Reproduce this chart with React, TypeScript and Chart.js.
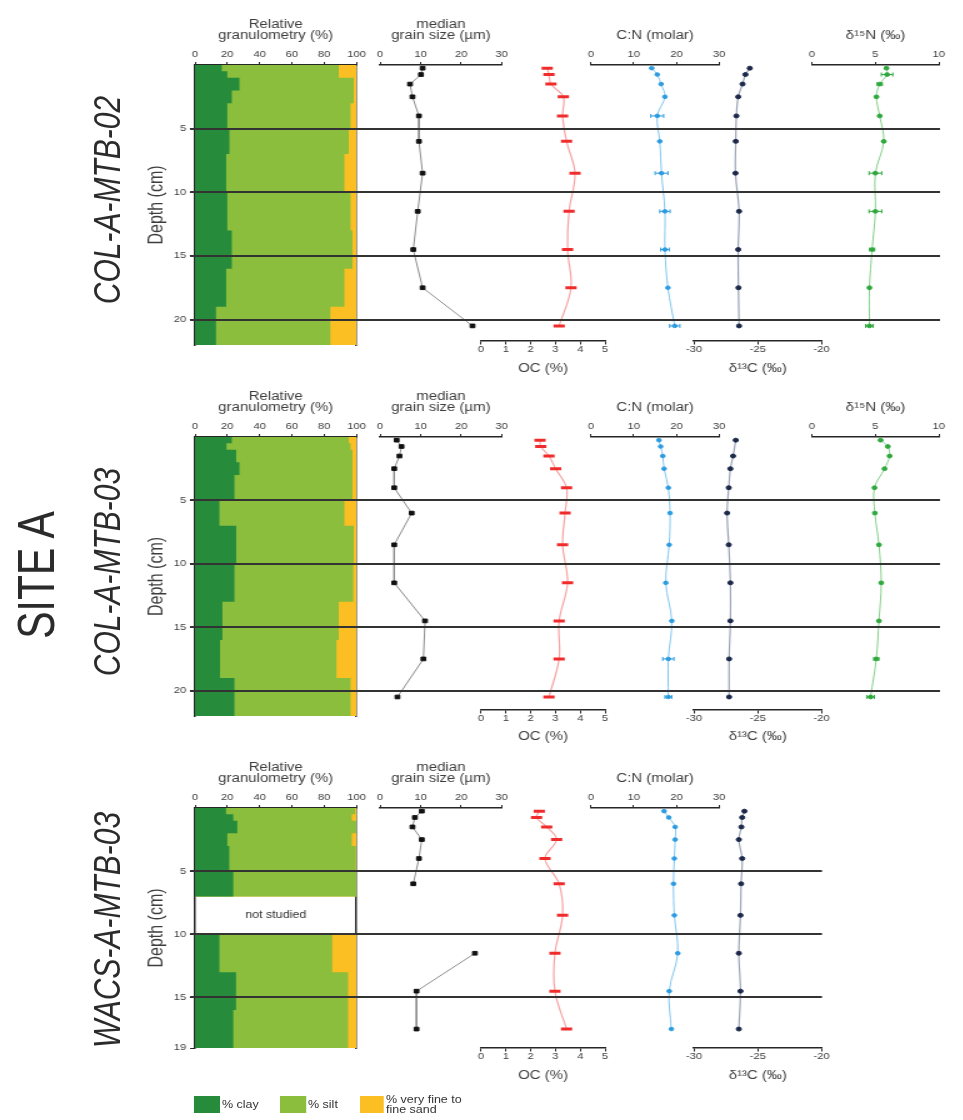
import React, { useEffect, useRef } from 'react';
import { Chart, registerables } from 'chart.js';

Chart.register(...registerables);

/* ====================== DATA ====================== */

const DEPTH_TICKS_COL = [5, 10, 15, 20];
const DEPTH_TICKS_WACS = [5, 10, 15, 19];

// ---- COL-A-MTB-02 ----
const EDGES_02 = [0, 0.5, 1, 2, 3, 5, 7, 10, 13, 16, 19, 22];
const CLAY_02 = [16.6, 20, 27.5, 22.8, 20, 21.3, 19.3, 20, 22.8, 19.3, 13];
const SILT_02 = [72.4, 69, 70.8, 75.5, 76.3, 73.9, 73.2, 76.3, 74.7, 73.2, 70.8];
const SAND_02 = [11, 11, 1.7, 1.7, 3.7, 4.8, 7.5, 3.7, 2.5, 7.5, 16.2];
const DEPTH_02 = [0.25, 0.75, 1.5, 2.5, 4, 6, 8.5, 11.5, 14.5, 17.5, 20.5];
const GS_02 = [10.5, 10.1, 7.4, 8.0, 9.6, 9.6, 10.5, 9.3, 8.2, 10.5, 22.8];
const OC_02 = [2.67, 2.74, 2.82, 3.32, 3.29, 3.45, 3.79, 3.55, 3.49, 3.63, 3.15];
const CN_02 = [14.2, 15.5, 16.4, 17.3, 15.5, 16.1, 16.5, 17.3, 17.3, 18.0, 19.6];
const CN_ERR_02 = [0, 0, 0, 0, 1.5, 0, 1.5, 1.2, 1.0, 0, 1.2];
const D13C_02 = [-25.63, -25.97, -26.2, -26.54, -26.68, -26.73, -26.75, -26.47, -26.54, -26.52, -26.47];
const D15N_02 = [5.87, 5.92, 5.34, 5.08, 5.34, 5.66, 5.0, 5.0, 4.74, 4.53, 4.53];
const D15N_ERR_02 = [0, 0.45, 0.2, 0, 0, 0, 0.5, 0.5, 0.2, 0, 0.3];

// ---- COL-A-MTB-03 ----
const EDGES_03 = [0, 0.5, 1, 2, 3, 5, 7, 10, 13, 16, 19, 22];
const CLAY_03 = [22.8, 19.5, 25.5, 27.5, 24.4, 15.1, 25.5, 24.4, 17, 15.5, 24.4];
const SILT_03 = [72.4, 76.8, 72, 70, 73.1, 77.4, 72.8, 73.6, 72, 72.1, 71.9];
const SAND_03 = [4.8, 3.7, 2.5, 2.5, 2.5, 7.5, 1.7, 2, 11, 12.4, 3.7];
const DEPTH_03 = [0.25, 0.75, 1.5, 2.5, 4, 6, 8.5, 11.5, 14.5, 17.5, 20.5];
const GS_03 = [4.1, 5.3, 4.8, 3.5, 3.5, 7.8, 3.5, 3.5, 11.1, 10.7, 4.3];
const OC_03 = [2.38, 2.41, 2.74, 3.01, 3.45, 3.39, 3.29, 3.49, 3.15, 3.15, 2.74];
const CN_03 = [15.9, 16.3, 16.8, 17.1, 18.1, 18.5, 18.3, 17.5, 18.9, 18.1, 18.1];
const CN_ERR_03 = [0, 0, 0, 0, 0, 0, 0, 0, 0, 1.3, 0.8];
const D13C_03 = [-26.73, null, -26.94, -27.15, -27.28, -27.41, -27.28, -27.15, -27.15, -27.25, -27.25];
const D15N_03 = [5.41, 5.98, 6.12, 5.72, 4.93, 4.96, 5.28, 5.46, 5.28, 5.07, 4.62];
const D15N_ERR_03 = [0, 0, 0, 0, 0, 0, 0, 0, 0, 0.2, 0.3];

// ---- WACS-A-MTB-03 ----
const EDGES_W = [0, 0.5, 1, 2, 3, 5, 7, 10, 13, 16, 19];
const CLAY_W = [19.2, 23.7, 26.2, 20, 21.2, 23.7, null, 15.1, 25.4, 23.7];
const SILT_W = [80, 73.4, 73.8, 77.1, 78.4, 76.3, null, 69.9, 69.4, 71.1];
const SAND_W = [0.8, 2.9, 0, 2.9, 0.4, 0, null, 15, 5.2, 5.2];
const DEPTH_W = [0.25, 0.75, 1.5, 2.5, 4, 6, 8.5, 11.5, 14.5, 17.5];
const GS_W = [10.3, 8.6, 8.0, 10.3, 9.6, 8.2, null, 23.4, 9.0, 9.0];
const OC_W = [2.35, 2.24, 2.65, 3.05, 2.58, 3.15, 3.29, 2.98, 2.98, 3.45];
const CN_W = [17.1, 18.2, 19.7, 19.7, 19.5, 19.3, 19.5, 20.3, 18.3, 18.8];
const D13C_W = [-26.05, -26.23, -26.29, -26.49, -26.23, -26.31, -26.36, -26.49, -26.36, -26.49];

/* ====================== STYLE / LAYOUT ====================== */

const K = 1.25; // the figure is horizontally stretched
const X = (px: number) => px / K;
const FONT = '"Liberation Sans", Arial, Helvetica, sans-serif';
const TXT = '#3d3d3d';
const AXIS_C = '#262626';
const CLAY_C = '#268c3c';
const SILT_C = '#8abe3c';
const SAND_C = '#fbbe23';
const TOP_H = 46;
const LEFT_W = 40;
const BOTTOM_H = 33;
const M = { l: 60, r: 40, t: 60, b: 50 };

const COL_GRAN = [195, 356.5];
const COL_GS = [380, 501.7];
const COL_OC = [481, 605];
const COL_CN = [591, 719.2];
const COL_D13C = [694, 821.7];
const COL_D15N = [812, 938.8];

const ST_GS = { line: '#8c8c8c', lw: 1, tension: 0, shape: 'rect', r: 2.6, bw: 1, pt: '#111111', spanGaps: false };
const ST_OC = { line: '#f6a3a3', lw: 1.2, tension: 0.35, shape: 'line', r: 4.5, bw: 3, pt: '#ef2b2b', spanGaps: true };
const ST_CN = { line: '#82c6ef', lw: 1, tension: 0.35, shape: 'circle', r: 1.8, bw: 1, pt: '#2c9be0', spanGaps: true };
const ST_D13C = { line: '#9ba3b6', lw: 1.2, tension: 0.35, shape: 'circle', r: 2, bw: 1, pt: '#1c2849', spanGaps: true };
const ST_D15N = { line: '#84d08a', lw: 1, tension: 0.35, shape: 'circle', r: 1.9, bw: 1, pt: '#2fa83e', spanGaps: true };

const PANELS: any[] = [
  {
    id: 'p1', core: 'COL-A-MTB-02', top: 65, bottom: 345, depthMax: 22, depthTicks: DEPTH_TICKS_COL,
    bottomAxisDepth: 21.7, lineRight: 940, labelY: 200,
    edges: EDGES_02, clay: CLAY_02, silt: SILT_02, sand: SAND_02,
    depths: DEPTH_02, gs: GS_02, oc: OC_02, cn: CN_02, cnErr: CN_ERR_02, d13c: D13C_02, d15n: D15N_02, d15nErr: D15N_ERR_02,
  },
  {
    id: 'p2', core: 'COL-A-MTB-03', top: 437, bottom: 716, depthMax: 22, depthTicks: DEPTH_TICKS_COL,
    bottomAxisDepth: 21.5, lineRight: 940, labelY: 572,
    edges: EDGES_03, clay: CLAY_03, silt: SILT_03, sand: SAND_03,
    depths: DEPTH_03, gs: GS_03, oc: OC_03, cn: CN_03, cnErr: CN_ERR_03, d13c: D13C_03, d15n: D15N_03, d15nErr: D15N_ERR_03,
  },
  {
    id: 'p3', core: 'WACS-A-MTB-03', top: 808, bottom: 1048, depthMax: 19, depthTicks: DEPTH_TICKS_WACS,
    bottomAxisDepth: 19, lineRight: 822, labelY: 930, gapText: 'not studied',
    edges: EDGES_W, clay: CLAY_W, silt: SILT_W, sand: SAND_W,
    depths: DEPTH_W, gs: GS_W, oc: OC_W, cn: CN_W, cnErr: null, d13c: D13C_W, d15n: null, d15nErr: null,
  },
];

/* ====================== PLUGINS ====================== */

const errorBarPlugin = {
  id: 'errorBars',
  afterDatasetsDraw(chart: any) {
    const ctx = chart.ctx;
    const xs = chart.scales.x;
    chart.data.datasets.forEach((ds: any, i: number) => {
      if (!ds.errors) return;
      const meta = chart.getDatasetMeta(i);
      ctx.save();
      ctx.strokeStyle = ds.pointBorderColor;
      ctx.lineWidth = 1;
      meta.data.forEach((pt: any, j: number) => {
        const e = ds.errors[j];
        const v = ds.data[j].x;
        if (!e || v == null) return;
        const x1 = xs.getPixelForValue(v - e);
        const x2 = xs.getPixelForValue(v + e);
        const y = pt.y;
        ctx.beginPath();
        ctx.moveTo(x1, y); ctx.lineTo(x2, y);
        ctx.moveTo(x1, y - 2); ctx.lineTo(x1, y + 2);
        ctx.moveTo(x2, y - 2); ctx.lineTo(x2, y + 2);
        ctx.stroke();
      });
      ctx.restore();
    });
  },
};

const gapLabelPlugin = {
  id: 'gapLabel',
  afterDatasetsDraw(chart: any, _args: any, opts: any) {
    if (!opts || !opts.text) return;
    const { ctx, scales } = chart;
    ctx.save();
    ctx.font = `10px ${FONT}`;
    ctx.fillStyle = '#333333';
    ctx.textAlign = 'center';
    ctx.textBaseline = 'middle';
    ctx.fillText(opts.text, scales.x.getPixelForValue(opts.x), scales.y.getPixelForValue(opts.depth));
    ctx.restore();
  },
};

/* ====================== BUILDERS ====================== */

function stepPolygons(edges: number[], left: (number | null)[], right: (number | null)[]) {
  const polys: any[] = [];
  let i = 0;
  while (i < right.length) {
    if (right[i] == null) { i++; continue; }
    let j = i;
    while (j < right.length && right[j] != null) j++;
    const pts: any[] = [];
    for (let k = i; k < j; k++) {
      pts.push({ x: right[k], y: edges[k] });
      pts.push({ x: right[k], y: edges[k + 1] });
    }
    for (let k = j - 1; k >= i; k--) {
      pts.push({ x: left[k], y: edges[k + 1] });
      pts.push({ x: left[k], y: edges[k] });
    }
    polys.push(pts);
    i = j;
  }
  return polys;
}

function baseOptions(padding: any) {
  return {
    responsive: false,
    animation: false,
    indexAxis: 'y',
    events: [],
    layout: { padding },
  };
}

const noPlugins = { legend: { display: false }, tooltip: { enabled: false } };

function tickFont() { return { size: 9, family: FONT }; }
function titleFont() { return { size: 12, family: FONT, lineHeight: 0.92 }; }

function topAxis(min: number, max: number, step: number, title: string[]) {
  return {
    type: 'linear', position: 'top', min, max,
    ticks: { stepSize: step, autoSkip: false, maxRotation: 0, minRotation: 0, padding: 2, color: TXT, font: tickFont() },
    grid: { display: true, drawOnChartArea: false, drawTicks: true, tickLength: 3, color: AXIS_C, lineWidth: 1 },
    border: { display: true, color: AXIS_C, width: 1.5 },
    title: { display: true, text: title, color: TXT, font: titleFont(), padding: { top: title.length === 1 ? 11 : 0, bottom: 0 } },
    afterFit: (s: any) => { s.height = TOP_H; },
  };
}

function bottomAxis(min: number, max: number, step: number, title: string, depth: number) {
  return {
    type: 'linear', position: { y: depth }, min, max,
    ticks: { stepSize: step, autoSkip: false, maxRotation: 0, minRotation: 0, padding: 0, color: TXT, font: tickFont() },
    grid: { display: true, drawOnChartArea: false, drawTicks: true, tickLength: 3, color: AXIS_C, lineWidth: 1 },
    border: { display: true, color: AXIS_C, width: 1.5 },
    title: { display: true, text: title, color: TXT, font: titleFont(), padding: { top: 0, bottom: 0 } },
    afterFit: (s: any) => { s.height = BOTTOM_H; },
  };
}

function depthScale(p: any) {
  return { type: 'linear', min: 0, max: p.depthMax, reverse: true, display: false };
}

function series(depths: number[], values: (number | null)[], st: any, errors?: number[] | null) {
  return {
    data: depths.map((d, i) => ({ x: values[i], y: d })),
    errors: errors || undefined,
    borderColor: st.line,
    borderWidth: st.lw,
    tension: st.tension,
    pointStyle: st.shape,
    pointRadius: st.r,
    pointBorderWidth: st.bw,
    pointBackgroundColor: st.pt,
    pointBorderColor: st.pt,
    fill: false,
    spanGaps: st.spanGaps,
    clip: 10,
  };
}

function granSpec(p: any) {
  const zeros = p.clay.map((c: any) => (c == null ? null : 0));
  const cumSilt = p.clay.map((c: any, i: number) => (c == null ? null : c + p.silt[i]));
  const cumSand = p.clay.map((c: any, i: number) => (c == null ? null : c + p.silt[i] + p.sand[i]));
  const layers: [any[], string][] = [[p.clay, CLAY_C], [cumSilt, SILT_C], [cumSand, SAND_C]];
  const datasets: any[] = [];
  layers.forEach(([right, color]) => {
    stepPolygons(p.edges, zeros, right).forEach((poly) => {
      datasets.push({
        data: poly, yAxisID: 'y', xAxisID: 'x', fill: 'shape', backgroundColor: color,
        borderWidth: 0, pointRadius: 0, tension: 0, spanGaps: true,
      });
    });
  });
  let gap: any = {};
  const gi = p.clay.findIndex((c: any) => c == null);
  if (gi >= 0 && p.gapText) gap = { text: p.gapText, x: 50, depth: (p.edges[gi] + p.edges[gi + 1]) / 2 };
  const ticks = p.depthTicks;
  return {
    key: p.id + 'gran',
    area: { l: COL_GRAN[0], r: COL_GRAN[1], t: p.top, b: p.bottom },
    sizes: { top: TOP_H, left: LEFT_W },
    config: (padding: any) => ({
      type: 'line',
      data: { datasets },
      options: {
        ...baseOptions(padding),
        plugins: { ...noPlugins, gapLabel: gap },
        scales: {
          x: topAxis(0, 100, 20, ['Relative', 'granulometry (%)']),
          y: {
            type: 'linear', position: 'left', min: 0, max: p.depthMax, reverse: true,
            afterBuildTicks: (s: any) => { s.ticks = ticks.map((v: number) => ({ value: v })); },
            ticks: { autoSkip: false, padding: 3, color: TXT, font: tickFont() },
            grid: { display: true, drawOnChartArea: false, drawTicks: true, tickLength: 4, color: AXIS_C, lineWidth: 1 },
            border: { display: true, color: AXIS_C, width: 1.5 },
            title: { display: true, text: 'Depth (cm)', color: TXT, font: { size: 16, family: FONT }, padding: 0 },
            afterFit: (s: any) => { s.width = LEFT_W; },
          },
          yR: {
            type: 'linear', position: 'right', min: 0, max: p.depthMax, reverse: true,
            ticks: { display: false },
            grid: { display: false, drawTicks: false },
            border: { display: true, color: AXIS_C, width: 1.5 },
            afterFit: (s: any) => { s.width = 0; },
          },
        },
      },
      plugins: [gapLabelPlugin],
    }),
  };
}

function profileSpec(p: any, name: string, col: number[], xAxis: any, datasets: any[], side: string) {
  return {
    key: p.id + name,
    area: { l: col[0], r: col[1], t: p.top, b: p.bottom },
    sizes: side === 'top' ? { top: TOP_H } : {},
    config: (padding: any) => ({
      type: 'line',
      data: { datasets },
      options: {
        ...baseOptions(padding),
        plugins: noPlugins,
        scales: { x: xAxis, y: depthScale(p) },
      },
      plugins: [errorBarPlugin],
    }),
  };
}

function linesSpec(p: any) {
  const ticks = p.depthTicks.filter((v: number) => v < p.depthMax);
  return {
    key: p.id + 'lines',
    area: { l: 190, r: p.lineRight, t: p.top, b: p.bottom },
    sizes: {},
    config: (padding: any) => ({
      type: 'line',
      data: { datasets: [] },
      options: {
        ...baseOptions(padding),
        plugins: noPlugins,
        scales: {
          x: { type: 'linear', min: 0, max: 1, display: false },
          y: {
            type: 'linear', position: 'left', min: 0, max: p.depthMax, reverse: true,
            afterBuildTicks: (s: any) => { s.ticks = ticks.map((v: number) => ({ value: v })); },
            ticks: { display: false },
            grid: { display: true, drawTicks: false, color: '#333333', lineWidth: 2 },
            border: { display: false },
            afterFit: (s: any) => { s.width = 0; },
          },
        },
      },
    }),
  };
}

function specsForPanel(p: any) {
  const specs: any[] = [];
  specs.push(granSpec(p));
  specs.push(profileSpec(p, 'gs', COL_GS, topAxis(0, 30, 10, ['median', 'grain size (µm)']), [series(p.depths, p.gs, ST_GS)], 'top'));
  specs.push(profileSpec(p, 'oc', COL_OC, bottomAxis(0, 5, 1, 'OC (%)', p.bottomAxisDepth), [series(p.depths, p.oc, ST_OC)], 'bottom'));
  specs.push(profileSpec(p, 'cn', COL_CN, topAxis(0, 30, 10, ['C:N (molar)']), [series(p.depths, p.cn, ST_CN, p.cnErr)], 'top'));
  specs.push(profileSpec(p, 'd13c', COL_D13C, bottomAxis(-30, -20, 5, 'δ¹³C (‰)', p.bottomAxisDepth), [series(p.depths, p.d13c, ST_D13C)], 'bottom'));
  if (p.d15n) {
    specs.push(profileSpec(p, 'd15n', COL_D15N, topAxis(0, 10, 5, ['δ¹⁵N (‰)']), [series(p.depths, p.d15n, ST_D15N, p.d15nErr)], 'top'));
  }
  specs.push(linesSpec(p));
  return specs;
}

function geometry(area: any, sizes: any) {
  const xl = X(area.l);
  const xr = X(area.r);
  const cx = Math.floor(xl - M.l);
  const cw = Math.ceil(xr + M.r) - cx;
  const cy = Math.floor(area.t - M.t);
  const ch = Math.ceil(area.b + M.b) - cy;
  const padding = {
    left: xl - cx - (sizes.left || 0),
    right: cx + cw - xr - (sizes.right || 0),
    top: area.t - cy - (sizes.top || 0),
    bottom: cy + ch - area.b - (sizes.bottom || 0),
  };
  return { cx, cy, cw, ch, padding };
}

/* ====================== COMPONENTS ====================== */

function ChartCanvas({ spec }: { spec: any }) {
  const ref = useRef<HTMLCanvasElement>(null);
  const g = geometry(spec.area, spec.sizes);
  useEffect(() => {
    if (!ref.current) return;
    const chart = new Chart(ref.current, spec.config(g.padding));
    return () => chart.destroy();
  }, []);
  return (
    <canvas
      ref={ref}
      width={g.cw}
      height={g.ch}
      style={{ position: 'absolute', left: g.cx, top: g.cy, width: g.cw, height: g.ch }}
    />
  );
}

function RotText({ x, y, size, italic, text }: any) {
  return (
    <div
      style={{
        position: 'absolute', left: X(x), top: y,
        transform: 'translate(-50%, -50%) rotate(-90deg)',
        fontFamily: FONT, fontSize: size, fontStyle: italic ? 'italic' : 'normal',
        color: '#2b2b2b', whiteSpace: 'nowrap', lineHeight: 1,
      }}
    >
      {text}
    </div>
  );
}

function LegendItem({ x0, x1, textX, color, lines }: any) {
  return (
    <>
      <div style={{ position: 'absolute', left: X(x0), top: 1096, width: X(x1) - X(x0), height: 17, background: color }} />
      <div
        style={{
          position: 'absolute', left: X(textX), top: lines.length > 1 ? 1095 : 1096, height: 17,
          fontFamily: FONT, fontSize: 10, lineHeight: lines.length > 1 ? '9.5px' : '17px', color: '#333', whiteSpace: 'nowrap',
        }}
      >
        {lines.map((l: string, i: number) => <div key={i}>{l}</div>)}
      </div>
    </>
  );
}

Chart.defaults.font.family = FONT;
Chart.defaults.color = TXT;

export default function App() {
  const specs = PANELS.flatMap(specsForPanel);
  return (
    <div style={{ position: 'absolute', left: 0, top: 0, width: 963, height: 1120, overflow: 'hidden', background: '#ffffff' }}>
      <div
        style={{
          position: 'absolute', left: 0, top: 0, width: 963 / K, height: 1120,
          transform: `scaleX(${K})`, transformOrigin: '0 0',
        }}
      >
        {specs.map((s) => <ChartCanvas key={s.key} spec={s} />)}
        <RotText x={37} y={575} size={41} text="SITE A" />
        {PANELS.map((p) => <RotText key={p.id} x={108} y={p.labelY} size={30} italic text={p.core} />)}
        <LegendItem x0={194} x1={220} textX={222} color={CLAY_C} lines={['% clay']} />
        <LegendItem x0={280} x1={306} textX={308} color={SILT_C} lines={['% silt']} />
        <LegendItem x0={360} x1={384} textX={386} color={SAND_C} lines={['% very fine to', 'fine sand']} />
      </div>
    </div>
  );
}
